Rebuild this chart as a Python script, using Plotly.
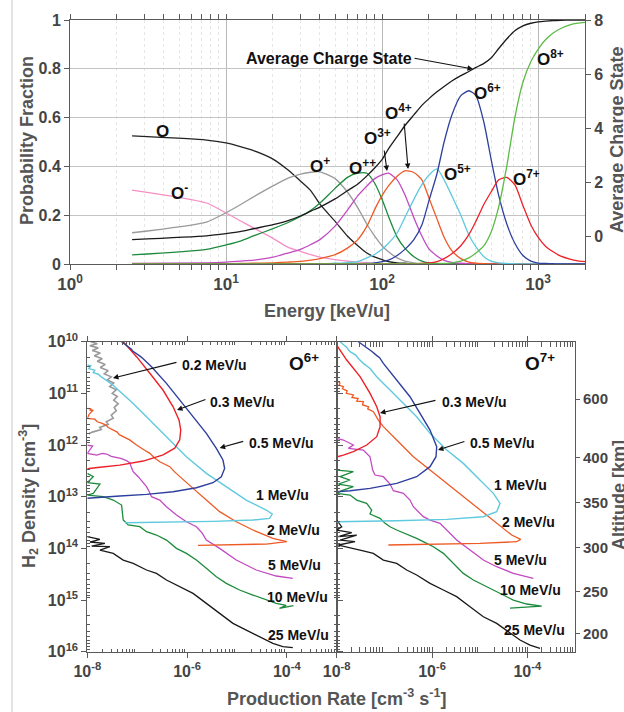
import numpy as np
import plotly.graph_objects as go

W, H = 624, 712
FONT = "Liberation Sans, Arial, Helvetica, sans-serif"

# ---------------- charge-state fractions vs energy (upper panel) ----------------
energy_keV_u = [2.5, 7.5, 10, 12.5, 15, 20, 25, 30, 35, 40,
                50, 60, 70, 80, 90, 100, 110, 125, 140, 160,
                180, 200, 225, 250, 280, 320, 360, 400, 450, 500,
                560, 630, 710, 800, 900, 1000, 1120, 1250, 1400, 1600,
                1800, 2000]

frac_O0 = [0.525, 0.508, 0.496, 0.480, 0.465, 0.430, 0.385, 0.340, 0.300, 0.245,
           0.175, 0.115, 0.075, 0.045, 0.028, 0.018, 0.010, 0.005, 0.003, 0.001,
           0, 0, 0, 0, 0, 0, 0, 0, 0, 0,
           0, 0, 0, 0, 0, 0, 0, 0, 0, 0,
           0, 0]
frac_Om = [0.303, 0.250, 0.209, 0.175, 0.148, 0.105, 0.068, 0.052, 0.038, 0.028,
           0.018, 0.012, 0.008, 0.005, 0.003, 0.002, 0.001, 0, 0, 0,
           0, 0, 0, 0, 0, 0, 0, 0, 0, 0,
           0, 0, 0, 0, 0, 0, 0, 0, 0, 0,
           0, 0]
frac_O1 = [0.128, 0.172, 0.210, 0.245, 0.275, 0.320, 0.352, 0.368, 0.376, 0.378,
           0.350, 0.295, 0.230, 0.163, 0.113, 0.075, 0.050, 0.025, 0.012, 0.005,
           0.002, 0.001, 0, 0, 0, 0, 0, 0, 0, 0,
           0, 0, 0, 0, 0, 0, 0, 0, 0, 0,
           0, 0]
frac_O2 = [0.037, 0.060, 0.078, 0.095, 0.115, 0.145, 0.170, 0.195, 0.220, 0.250,
           0.310, 0.355, 0.372, 0.372, 0.330, 0.265, 0.195, 0.110, 0.065, 0.030,
           0.012, 0.005, 0.002, 0.001, 0, 0, 0, 0, 0, 0,
           0, 0, 0, 0, 0, 0, 0, 0, 0, 0,
           0, 0]
frac_O3 = [0.002, 0.005, 0.008, 0.012, 0.016, 0.028, 0.045, 0.060, 0.080, 0.100,
           0.155, 0.220, 0.280, 0.320, 0.350, 0.365, 0.372, 0.345, 0.285, 0.190,
           0.115, 0.062, 0.033, 0.015, 0.007, 0.003, 0.001, 0, 0, 0,
           0, 0, 0, 0, 0, 0, 0, 0, 0, 0,
           0, 0]
frac_O4 = [0, 0.001, 0.001, 0.002, 0.003, 0.005, 0.008, 0.011, 0.016, 0.022,
           0.038, 0.065, 0.100, 0.155, 0.225, 0.280, 0.320, 0.360, 0.382, 0.375,
           0.345, 0.270, 0.185, 0.110, 0.055, 0.022, 0.008, 0.003, 0.001, 0,
           0, 0, 0, 0, 0, 0, 0, 0, 0, 0,
           0, 0]
frac_O5 = [0, 0, 0, 0, 0, 0, 0, 0, 0, 0.001,
           0.003, 0.006, 0.010, 0.025, 0.040, 0.060, 0.085, 0.127, 0.190, 0.265,
           0.325, 0.365, 0.390, 0.345, 0.280, 0.200, 0.120, 0.070, 0.030, 0.012,
           0.005, 0.002, 0.001, 0, 0, 0, 0, 0, 0, 0,
           0, 0]
frac_O6 = [0, 0, 0, 0, 0, 0, 0, 0, 0, 0,
           0, 0, 0.001, 0.002, 0.005, 0.010, 0.016, 0.035, 0.060, 0.100,
           0.160, 0.260, 0.370, 0.500, 0.610, 0.690, 0.710, 0.690, 0.580, 0.430,
           0.280, 0.165, 0.085, 0.035, 0.012, 0.004, 0.002, 0.001, 0, 0,
           0, 0]
frac_O7 = [0, 0, 0, 0, 0, 0, 0, 0, 0, 0,
           0, 0, 0, 0, 0, 0, 0, 0, 0, 0.001,
           0.002, 0.004, 0.010, 0.022, 0.042, 0.075, 0.120, 0.175, 0.245, 0.295,
           0.345, 0.355, 0.325, 0.240, 0.160, 0.110, 0.072, 0.050, 0.032, 0.020,
           0.013, 0.010]
frac_O8 = [0, 0, 0, 0, 0, 0, 0, 0, 0, 0,
           0, 0, 0, 0, 0, 0, 0, 0, 0, 0,
           0, 0, 0, 0.002, 0.005, 0.012, 0.025, 0.045, 0.075, 0.130,
           0.235, 0.400, 0.600, 0.745, 0.830, 0.880, 0.920, 0.947, 0.965, 0.980,
           0.987, 0.990]
charge_avg = [-0.10, 0.04, 0.12, 0.20, 0.30, 0.45, 0.60, 0.77, 0.95, 1.10,
              1.40, 1.70, 1.95, 2.25, 2.55, 2.85, 3.25, 3.70, 4.10, 4.50,
              4.85, 5.10, 5.35, 5.55, 5.75, 5.95, 6.10, 6.25, 6.40, 6.60,
              6.95, 7.30, 7.60, 7.78, 7.88, 7.93, 7.96, 7.98, 7.99, 8.00,
              8.00, 8.00]

prob_ticks = [0, 0.2, 0.4, 0.6, 0.8, 1]
prob_labels = ["0", "0.2", "0.4", "0.6", "0.8", "1"]
charge_ticks = [0, 2, 4, 6, 8]

# ------------- production-rate profiles (lower panels) -------------
# points are (log10 production rate [cm^-3 s^-1], log10 H2 density [cm^-3])
o6_02 = [(-7.93, 10.00), (-7.80, 10.04), (-7.95, 10.08), (-7.78, 10.12), (-7.90, 10.17),
         (-7.74, 10.22), (-7.86, 10.27), (-7.70, 10.33), (-7.80, 10.38), (-7.64, 10.44),
         (-7.74, 10.50), (-7.58, 10.56), (-7.66, 10.62), (-7.52, 10.68), (-7.60, 10.74),
         (-7.47, 10.80), (-7.55, 10.87), (-7.42, 10.93), (-7.50, 11.00), (-7.40, 11.06),
         (-7.47, 11.13), (-7.38, 11.20), (-7.46, 11.27), (-7.42, 11.34), (-7.52, 11.42),
         (-7.48, 11.48), (-7.62, 11.55), (-7.58, 11.60), (-7.75, 11.66), (-7.72, 11.70),
         (-7.90, 11.75), (-7.97, 11.78)]
o6_03 = [(-7.28, 10.00), (-7.013, 10.29), (-6.747, 10.61), (-6.48, 10.94), (-6.28, 11.26),
         (-6.16, 11.52), (-6.127, 11.71), (-6.147, 11.90), (-6.247, 12.06), (-6.48, 12.19),
         (-6.88, 12.31), (-7.347, 12.39), (-7.747, 12.43), (-8.0, 12.46)]
o6_05 = [(-7.313, 10.00), (-7.24, 10.05), (-7.20, 10.08), (-7.12, 10.14), (-7.09, 10.18),
         (-7.013, 10.226), (-6.93, 10.29), (-6.88, 10.33), (-6.80, 10.40), (-6.713, 10.484),
         (-6.413, 10.806), (-6.147, 11.129), (-5.88, 11.452), (-5.613, 11.774), (-5.413, 12.065),
         (-5.28, 12.29), (-5.247, 12.452), (-5.313, 12.613), (-5.48, 12.729), (-5.813, 12.826),
         (-6.28, 12.903), (-6.813, 12.955), (-7.347, 12.987), (-7.747, 13.013), (-8.0, 13.03)]
o6_1 = [(-8.0, 10.45), (-7.93, 10.47), (-7.97, 10.52), (-7.85, 10.55), (-7.88, 10.60),
        (-7.78, 10.63), (-7.72, 10.68), (-7.65, 10.72), (-7.60, 10.76), (-7.50, 10.83),
        (-7.42, 10.90), (-7.347, 10.968), (-7.20, 11.08), (-7.08, 11.194), (-6.813, 11.452),
        (-6.413, 11.839), (-6.013, 12.226), (-5.613, 12.548), (-5.213, 12.806), (-4.813, 13.065),
        (-4.413, 13.258), (-4.293, 13.335), (-4.347, 13.419), (-4.68, 13.452), (-5.48, 13.477),
        (-6.48, 13.497), (-7.247, 13.503)]
o6_2 = [(-8.0, 11.29), (-7.92, 11.30), (-7.95, 11.33), (-7.88, 11.323), (-7.96, 11.40),
        (-8.0, 11.484), (-7.85, 11.50), (-7.80, 11.55), (-7.70, 11.58), (-7.62, 11.62),
        (-7.58, 11.66), (-7.48, 11.71), (-7.40, 11.75), (-7.36, 11.80), (-7.28, 11.839),
        (-7.15, 11.90), (-7.013, 12.00), (-6.90, 12.06), (-6.85, 12.10), (-6.747, 12.161),
        (-6.65, 12.25), (-6.547, 12.323), (-6.45, 12.37), (-6.347, 12.419), (-6.25, 12.52),
        (-6.147, 12.613), (-5.88, 12.839), (-5.613, 13.065), (-5.347, 13.29), (-5.013, 13.484),
        (-4.68, 13.645), (-4.28, 13.806), (-4.0, 13.871), (-4.413, 13.916), (-5.147, 13.935),
        (-5.78, 13.942)]
o6_5 = [(-8.0, 12.00), (-7.893, 12.019), (-8.0, 12.161), (-7.813, 12.194), (-7.70, 12.16),
        (-7.613, 12.174), (-7.52, 12.22), (-7.413, 12.239), (-7.33, 12.26), (-7.213, 12.303),
        (-7.15, 12.34), (-7.12, 12.42), (-7.08, 12.516), (-6.98, 12.613), (-6.90, 12.70),
        (-6.813, 12.806), (-6.76, 12.90), (-6.713, 13.00), (-6.547, 13.065), (-6.48, 13.13),
        (-6.413, 13.194), (-6.213, 13.355), (-6.013, 13.484), (-5.813, 13.581), (-5.70, 13.70),
        (-5.613, 13.839), (-5.347, 14.00), (-5.013, 14.226), (-4.613, 14.419), (-4.213, 14.535),
        (-3.88, 14.581)]
o6_10 = [(-8.0, 12.548), (-7.88, 12.613), (-8.0, 12.729), (-7.747, 12.755), (-7.88, 12.935),
         (-8.0, 12.968), (-7.68, 13.00), (-7.48, 13.065), (-7.313, 13.161), (-7.28, 13.452),
         (-7.18, 13.548), (-6.947, 13.581), (-6.813, 13.677), (-6.613, 13.742), (-6.413, 13.839),
         (-6.213, 14.00), (-6.013, 14.097), (-5.813, 14.226), (-5.613, 14.387), (-5.413, 14.548),
         (-5.213, 14.677), (-4.947, 14.806), (-4.68, 14.903), (-4.413, 15.00), (-4.213, 15.065),
         (-4.013, 15.103), (-4.147, 15.161), (-3.867, 15.11)]
o6_25 = [(-8.0, 13.774), (-7.747, 13.826), (-7.947, 13.877), (-7.647, 13.903), (-7.913, 13.955),
         (-7.547, 13.968), (-7.747, 14.032), (-7.48, 14.097), (-7.28, 14.226), (-7.08, 14.29),
         (-6.813, 14.419), (-6.613, 14.484), (-6.413, 14.613), (-6.147, 14.742), (-5.88, 14.871),
         (-5.613, 15.065), (-5.347, 15.258), (-5.08, 15.452), (-4.813, 15.581), (-4.547, 15.71),
         (-4.28, 15.839), (-4.08, 15.903), (-3.88, 15.923)]

o7_03 = [(-8.0, 10.065), (-7.79, 10.355), (-7.51, 10.677), (-7.30, 11.00), (-7.16, 11.258),
         (-7.09, 11.452), (-7.09, 11.645), (-7.16, 11.839), (-7.37, 12.00), (-7.65, 12.129),
         (-7.86, 12.194), (-7.986, 12.226)]
o7_05 = [(-7.545, 10.00), (-7.50, 10.03), (-7.44, 10.06), (-7.40, 10.10), (-7.30, 10.15),
         (-7.26, 10.19), (-7.17, 10.26), (-7.10, 10.31), (-7.021, 10.419), (-6.741, 10.742),
         (-6.462, 11.065), (-6.252, 11.387), (-6.042, 11.71), (-5.902, 12.032), (-5.916, 12.226),
         (-6.042, 12.419), (-6.322, 12.613), (-6.741, 12.742), (-7.30, 12.839), (-7.72, 12.884),
         (-8.0, 12.903)]
o7_1 = [(-7.93, 10.00), (-7.86, 10.06), (-7.80, 10.10), (-7.72, 10.194), (-7.60, 10.26),
        (-7.54, 10.33), (-7.441, 10.419), (-7.30, 10.52), (-7.161, 10.677), (-6.881, 10.935),
        (-6.601, 11.194), (-6.322, 11.452), (-6.042, 11.774), (-5.692, 12.097), (-5.343, 12.355),
        (-4.993, 12.677), (-4.713, 12.935), (-4.573, 13.129), (-4.643, 13.29), (-4.923, 13.387),
        (-5.692, 13.439), (-6.741, 13.465), (-7.58, 13.477), (-8.0, 13.484)]
o7_2 = [(-7.965, 10.774), (-7.93, 10.80), (-7.95, 10.84), (-7.86, 10.87), (-7.88, 10.91),
        (-7.78, 10.95), (-7.80, 11.00), (-7.65, 11.03), (-7.68, 11.08), (-7.55, 11.10),
        (-7.58, 11.15), (-7.44, 11.16), (-7.46, 11.22), (-7.33, 11.26), (-7.35, 11.30),
        (-7.23, 11.355), (-7.126, 11.516), (-7.021, 11.645), (-6.741, 11.903), (-6.392, 12.226),
        (-6.042, 12.484), (-5.692, 12.742), (-5.343, 13.00), (-4.993, 13.258), (-4.643, 13.516),
        (-4.329, 13.742), (-4.14, 13.826), (-4.224, 13.871), (-4.993, 13.903), (-6.042, 13.923),
        (-6.916, 13.935)]
o7_5 = [(-8.0, 11.871), (-7.86, 11.903), (-7.65, 12.00), (-7.755, 12.065), (-7.441, 12.097),
        (-7.301, 12.226), (-7.245, 12.484), (-7.196, 12.581), (-7.021, 12.613), (-6.881, 12.755),
        (-6.811, 12.884), (-6.601, 12.935), (-6.462, 13.065), (-6.392, 13.194), (-6.182, 13.387),
        (-6.042, 13.452), (-5.832, 13.516), (-5.692, 13.645), (-5.483, 13.839), (-5.203, 14.032),
        (-4.923, 14.226), (-4.643, 14.355), (-4.294, 14.484), (-3.874, 14.581)]
o7_10 = [(-8.0, 12.484), (-7.65, 12.516), (-7.93, 12.613), (-7.72, 12.677), (-7.965, 12.755),
         (-7.65, 12.806), (-7.895, 12.884), (-8.0, 12.935), (-7.72, 12.968), (-7.58, 13.065),
         (-7.371, 13.129), (-7.266, 13.258), (-7.301, 13.335), (-7.091, 13.419), (-6.986, 13.516),
         (-6.881, 13.581), (-6.741, 13.645), (-6.531, 13.723), (-6.322, 13.806), (-6.112, 13.903),
         (-5.972, 13.968), (-5.762, 14.097), (-5.552, 14.29), (-5.343, 14.484), (-5.133, 14.613),
         (-4.853, 14.742), (-4.573, 14.871), (-4.294, 15.00), (-4.014, 15.077), (-3.699, 15.116),
         (-4.364, 15.155)]
o7_25 = [(-8.0, 13.452), (-7.895, 13.581), (-8.0, 13.645), (-7.685, 13.697), (-7.965, 13.774),
         (-7.58, 13.742), (-7.93, 13.839), (-7.615, 13.871), (-7.965, 13.935), (-7.79, 13.968),
         (-7.51, 14.032), (-7.231, 14.097), (-7.021, 14.226), (-6.741, 14.29), (-6.531, 14.419),
         (-6.322, 14.516), (-6.042, 14.677), (-5.762, 14.806), (-5.483, 14.935), (-5.203, 15.129),
         (-4.923, 15.323), (-4.643, 15.452), (-4.364, 15.645), (-4.154, 15.774), (-3.944, 15.871),
         (-3.734, 15.935)]

altitude_km = ["600", "400", "350", "300", "250", "200"]
altitude_log_density = [11.109, 12.245, 13.115, 13.987, 14.838, 15.645]

# ---------------------------------------------------------------------
C = dict(O0="#222222", Om="#f590c6", O1="#9a9a9a", O2="#1c8b3c", O3="#c24ac2",
         O4="#ee5a26", O5="#5fc9de", O6="#2f3f9e", O7="#ec2228", O8="#5cbb46")

fig = go.Figure()

top_series = [(frac_Om, C["Om"]), (frac_O0, C["O0"]), (frac_O1, C["O1"]), (frac_O2, C["O2"]),
              (frac_O3, C["O3"]), (frac_O4, C["O4"]), (frac_O5, C["O5"]), (frac_O6, C["O6"]),
              (frac_O7, C["O7"]), (frac_O8, C["O8"])]
for vals, col in top_series:
    fig.add_trace(go.Scatter(x=energy_keV_u, y=vals, mode="lines", xaxis="x", yaxis="y",
                             line=dict(color=col, width=1.3, shape="spline", smoothing=0.6),
                             showlegend=False, hoverinfo="skip"))
fig.add_trace(go.Scatter(x=energy_keV_u, y=charge_avg, mode="lines", xaxis="x", yaxis="y2",
                         line=dict(color="#1a1a1a", width=1.3, shape="spline", smoothing=0.6),
                         showlegend=False, hoverinfo="skip"))

left_curves = [(o6_02, "#9a9a9a", 1.6), (o6_25, "#1a1a1a", 1.3), (o6_10, C["O2"], 1.3),
               (o6_5, C["O3"], 1.3), (o6_2, C["O4"], 1.3), (o6_1, C["O5"], 1.4),
               (o6_03, C["O7"], 1.4), (o6_05, C["O6"], 1.4)]
right_curves = [(o7_25, "#1a1a1a", 1.3), (o7_10, C["O2"], 1.3), (o7_5, C["O3"], 1.3),
                (o7_2, C["O4"], 1.3), (o7_1, C["O5"], 1.4), (o7_05, C["O6"], 1.4),
                (o7_03, C["O7"], 1.4)]
for curves, xa, ya in [(left_curves, "x2", "y3"), (right_curves, "x3", "y4")]:
    for pts, col, lw in curves:
        r, d = np.array(pts).T
        fig.add_trace(go.Scatter(x=10 ** r, y=10 ** d, mode="lines", xaxis=xa, yaxis=ya,
                                 line=dict(color=col, width=lw), showlegend=False,
                                 hoverinfo="skip"))
# keeps the altitude axis attached to the right-hand panel
fig.add_trace(go.Scatter(x=[1e-7], y=[1e12], mode="markers", xaxis="x3", yaxis="y5",
                         marker=dict(opacity=0), showlegend=False, hoverinfo="skip"))


def dec(p):
    return f"10<sup>{p}</sup>"


def minor_log(lo, hi, top=None):
    vals = [k * 10.0 ** e for e in range(lo, hi) for k in range(2, 10)]
    return [v for v in vals if top is None or v <= top]


def tfont(size):
    return dict(family=FONT, size=size, color="#444444", weight="bold")


LINE = "#5a5a5a"
base = dict(showline=True, linecolor=LINE, linewidth=1, zeroline=False, tickcolor=LINE)

top_dom = [1 - 264 / H, 1 - 20 / H]
bot_dom = [1 - 651.7 / H, 1 - 341.7 / H]

fig.update_layout(
    width=W, height=H, margin=dict(l=0, r=0, t=0, b=0, autoexpand=False),
    paper_bgcolor="white", plot_bgcolor="white",
    xaxis=dict(type="log", domain=[70 / W, 585 / W], range=[0, np.log10(2000)], anchor="y",
               tickmode="array", tickvals=[1, 10, 100, 1000], ticktext=[dec(p) for p in range(4)],
               ticks="outside", ticklen=5, mirror="allticks", showgrid=True,
               gridcolor="#b8b8b8", tickfont=tfont(17),
               minor=dict(tickmode="array", tickvals=minor_log(0, 4, 2000), ticks="outside",
                          ticklen=3, tickcolor=LINE, showgrid=True, gridcolor="#e6e6e6",
                          griddash="dot"), **base),
    yaxis=dict(domain=top_dom, range=[0, 1], anchor="x", tickmode="array",
               tickvals=prob_ticks, ticktext=prob_labels, ticks="outside", ticklen=5,
               showgrid=True, gridcolor="#c4c4c4", tickfont=tfont(16), **base),
    yaxis2=dict(overlaying="y", side="right", anchor="x", range=[-1, 8], tickmode="array",
                tickvals=charge_ticks, ticks="outside", ticklen=5, showgrid=False,
                tickfont=tfont(16), **base),
    xaxis2=dict(type="log", domain=[87.3 / W, 336.7 / W], range=[-8, -3], anchor="y3",
                tickmode="array", tickvals=[1e-8, 1e-6, 1e-4],
                ticktext=[dec(-8), dec(-6), dec(-4)], ticks="outside", ticklen=5,
                mirror="allticks", showgrid=False, tickfont=tfont(16),
                minor=dict(tickmode="array", tickvals=minor_log(-8, -3), ticks="inside",
                           ticklen=3, tickcolor=LINE), **base),
    yaxis3=dict(type="log", domain=bot_dom, range=[16, 10], anchor="x2", tickmode="array",
                tickvals=[10.0 ** p for p in range(10, 17)],
                ticktext=[dec(p) for p in range(10, 17)], ticks="outside", ticklen=5,
                mirror="allticks", showgrid=False, tickfont=tfont(16),
                minor=dict(tickmode="array", tickvals=minor_log(10, 16), ticks="inside",
                           ticklen=3, tickcolor=LINE), **base),
    xaxis3=dict(type="log", domain=[336.7 / W, 575 / W], range=[-8, -3], anchor="y4",
                tickmode="array", tickvals=[1e-8, 1e-6, 1e-4],
                ticktext=[dec(-8), dec(-6), dec(-4)], ticks="outside", ticklen=5,
                mirror="allticks", showgrid=False, tickfont=tfont(16),
                minor=dict(tickmode="array", tickvals=minor_log(-8, -3), ticks="inside",
                           ticklen=3, tickcolor=LINE), **base),
    yaxis4=dict(type="log", domain=bot_dom, range=[16, 10], anchor="x3", tickmode="array",
                tickvals=[10.0 ** p for p in range(10, 17)], showticklabels=False,
                ticks="inside", ticklen=4, showgrid=False,
                minor=dict(tickmode="array", tickvals=minor_log(10, 16), ticks="inside",
                           ticklen=3, tickcolor=LINE), **base),
    yaxis5=dict(type="log", overlaying="y4", side="right", anchor="x3", range=[16, 10],
                tickmode="array", tickvals=[10.0 ** v for v in altitude_log_density],
                ticktext=altitude_km, ticks="outside", ticklen=4, showgrid=False,
                tickfont=tfont(15), **base),
)

ann = []


def label(text, x, y, xref, yref, size=15, xanchor="center", color="#111111"):
    ann.append(dict(text=text, x=x, y=y, xref=xref, yref=yref, showarrow=False,
                    xanchor=xanchor, yanchor="middle",
                    font=dict(family=FONT, size=size, color=color, weight="bold")))


def arrow(x, y, ax, ay, xref, yref):
    ann.append(dict(text="", x=x, y=y, ax=ax, ay=ay, xref=xref, yref=yref, showarrow=True,
                    arrowhead=2, arrowsize=1, arrowwidth=1.1, arrowcolor="#111111"))


# species labels (x in log10 energy)
for txt, lx, ly in [("O", 0.596, 0.541), ("O<sup>-</sup>", 0.705, 0.295),
                    ("O<sup>+</sup>", 1.603, 0.406), ("O<sup>++</sup>", 1.872, 0.398),
                    ("O<sup>3+</sup>", 1.968, 0.520), ("O<sup>4+</sup>", 2.103, 0.623),
                    ("O<sup>5+</sup>", 2.481, 0.373), ("O<sup>6+</sup>", 2.673, 0.705),
                    ("O<sup>7+</sup>", 2.929, 0.352), ("O<sup>8+</sup>", 3.077, 0.844)]:
    label(txt, lx, ly, "x", "y", size=17)
label("Average Charge State", 1.660, 0.844, "x", "y", size=16)
arrow(2.583, 0.799, -60, -11, "x", "y")
arrow(2.032, 0.381, -3, -22, "x", "y")
arrow(2.167, 0.389, -4, -47, "x", "y")

# energy labels in the production-rate panels
for txt, lx, ly in [("0.2 MeV/u", -6.146, 10.451), ("0.3 MeV/u", -5.586, 11.167),
                    ("0.5 MeV/u", -4.806, 11.96), ("1 MeV/u", -4.65, 12.966),
                    ("2 MeV/u", -4.446, 13.643), ("5 MeV/u", -4.41, 14.32),
                    ("10 MeV/u", -4.446, 14.94), ("25 MeV/u", -4.41, 15.676)]:
    label(txt, lx, ly, "x2", "y3", size=14, xanchor="left")
label("O<sup>6+</sup>", -3.646, 10.392, "x2", "y3", size=19)
arrow(-7.486, 10.703, 65, -16, "x2", "y3")
arrow(-6.202, 11.322, 30, -11, "x2", "y3")
arrow(-5.346, 12.057, 25, -7, "x2", "y3")

for txt, lx, ly in [("0.3 MeV/u", -5.834, 11.167), ("0.5 MeV/u", -5.247, 11.96),
                    ("1 MeV/u", -4.744, 12.773), ("2 MeV/u", -4.576, 13.489),
                    ("5 MeV/u", -4.744, 14.225), ("10 MeV/u", -4.618, 14.805),
                    ("25 MeV/u", -4.534, 15.579)]:
    label(txt, lx, ly, "x3", "y4", size=14, xanchor="left")
label("O<sup>7+</sup>", -3.738, 10.39, "x3", "y4", size=19)
arrow(-7.092, 11.38, 57, -13, "x3", "y4")
arrow(-5.876, 12.096, 28, -9, "x3", "y4")

# axis titles
TITLE = "#555555"
for txt, px, py, ang in [("Probability Fraction", 27, 141, -90),
                         ("Average Charge State", 617, 140, -90),
                         ("Energy [keV/u]", 327, 311, 0),
                         ("H<sub>2</sub> Density [cm<sup>-3</sup>]", 28, 496, -90),
                         ("Altitude [km]", 619, 495, -90),
                         ("Production Rate [cm<sup>-3</sup> s<sup>-1</sup>]", 336, 697, 0)]:
    ann.append(dict(text=txt, x=px / W, y=1 - py / H, xref="paper", yref="paper",
                    showarrow=False, textangle=ang, xanchor="center", yanchor="middle",
                    font=dict(family=FONT, size=18, color=TITLE, weight="bold")))

fig.update_layout(annotations=ann,
                  shapes=[dict(type="line", xref="paper", yref="paper", x0=12 / W, x1=12 / W,
                               y0=0, y1=1, line=dict(color="#c8c8c8", width=1))])

fig.write_html("out.html", post_script="document.body.style.margin='0';")
